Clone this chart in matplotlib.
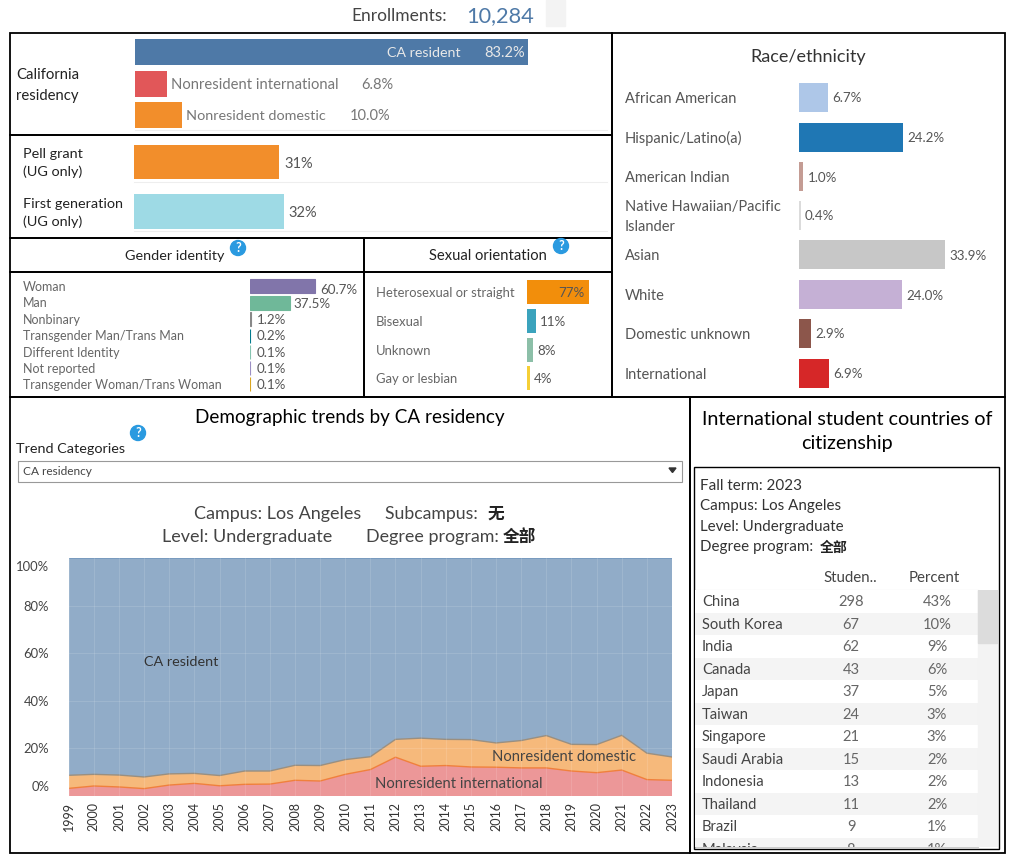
import matplotlib
matplotlib.use("Agg")
import matplotlib.pyplot as plt
from matplotlib.patches import Rectangle, Circle, Polygon
from matplotlib.transforms import ScaledTranslation

FONT = ['Lato', 'Noto Sans CJK SC', 'DejaVu Sans']
plt.rcParams['font.family'] = FONT

W, H = 1011, 864
GREY = '#555555'
DARK = '#222222'

# data
residency = ['CA resident', 'Nonresident international', 'Nonresident domestic']
residency_pct = [83.2, 6.8, 10.0]
residency_col = ['#4e79a7', '#e15759', '#f28e2b']

aid = ['Pell grant\n(UG only)', 'First generation\n(UG only)']
aid_pct = [31, 32]
aid_col = ['#f28e2b', '#9edae5']

gender = ['Woman', 'Man', 'Nonbinary', 'Transgender Man/Trans Man', 'Different Identity',
          'Not reported', 'Transgender Woman/Trans Woman']
gender_pct = [60.7, 37.5, 1.2, 0.2, 0.1, 0.1, 0.1]
gender_col = ['#8175aa', '#6fb899', '#888888', '#027b8e', '#85c4b0', '#9c8fc4', '#d9a521']

orientation = ['Heterosexual or straight', 'Bisexual', 'Unknown', 'Gay or lesbian']
orientation_pct = [77, 11, 8, 4]
orientation_col = ['#f28e0b', '#3ba3bd', '#8cbfa8', '#f5cf36']

race = ['African American', 'Hispanic/Latino(a)', 'American Indian',
        'Native Hawaiian/Pacific\nIslander', 'Asian', 'White', 'Domestic unknown', 'International']
race_pct = [6.7, 24.2, 1.0, 0.4, 33.9, 24.0, 2.9, 6.9]
race_col = ['#aec7e8', '#1f77b4', '#c49c94', '#dbdbdb', '#c7c7c7', '#c5b0d5', '#8c564b', '#d62728']

years = list(range(1999, 2024))
trend_intl = [3.2, 4.2, 3.8, 3.1, 4.6, 5.3, 4.3, 4.9, 5.0, 6.6, 6.3, 9.1, 11.1, 16.3, 12.5, 12.8,
              12.2, 12.1, 11.8, 11.8, 10.5, 9.8, 10.9, 6.9, 6.6]
trend_dom = [5.5, 4.9, 5.0, 4.9, 4.7, 4.2, 4.3, 5.6, 5.5, 6.3, 6.5, 6.2, 5.4, 7.5, 11.8, 11.0,
             11.5, 10.2, 11.5, 13.6, 11.2, 11.8, 14.6, 11.1, 9.8]
trend_ca = [91.3, 90.9, 91.2, 92.0, 90.7, 90.5, 91.4, 89.5, 89.5, 87.1, 87.2, 84.7, 83.5, 76.2,
            75.7, 76.2, 76.3, 77.7, 76.7, 74.6, 78.3, 78.4, 74.5, 82.0, 83.6]

countries = ['China', 'South Korea', 'India', 'Canada', 'Japan', 'Taiwan', 'Singapore',
             'Saudi Arabia', 'Indonesia', 'Thailand', 'Brazil', 'Malaysia']
students = [298, 67, 62, 43, 37, 24, 21, 15, 13, 11, 9, 8]
percents = [43, 10, 9, 6, 5, 3, 3, 2, 2, 2, 1, 1]

fig = plt.figure(figsize=(W / 100, H / 100), dpi=100)


def px_axes(x0, y0, x1, y1):
    ax = fig.add_axes([x0 / W, 1 - y1 / H, (x1 - x0) / W, (y1 - y0) / H])
    ax.axis('off')
    return ax


# page layer for frames and headings, in pixels
page = px_axes(0, 0, W, H)
page.set_xlim(0, W)
page.set_ylim(H, 0)


def frame(x0, y0, x1, y1, lw=1.3):
    page.add_patch(Rectangle((x0, y0), x1 - x0, y1 - y0, fill=False, ec='black', lw=lw, zorder=5))


def put(x, y, s, size=9, color=GREY, ha='left', va='center', **kw):
    page.text(x, y + 0.8, s, fontsize=size, color=color, ha=ha, va=va, zorder=6, **kw)


def help_icon(x, y):
    page.add_patch(Circle((x, y), 7.5, color='#2a9ae0', zorder=6))
    put(x, y - 0.8, '?', size=9, color='white', ha='center', fontweight='bold')


def hbars(rect, scale, values, colors, height, centers=None, edge=False):
    # scale is pixels per percent, y runs in pixels from the top of the rect
    x0, y0, x1, y1 = rect
    ax = px_axes(x0, y0, x1, y1)
    ax.set_xlim(0, (x1 - x0) / scale)
    ax.set_ylim(y1 - y0, 0)
    bars = ax.barh([c - y0 for c in centers], values, height=height, color=colors)
    if edge:
        # very small shares still show as a hairline
        for b, c in zip(bars, colors):
            b.set_edgecolor(c)
            b.set_linewidth(0.8)
    return ax


frame(10, 33, 612, 135)
frame(10, 135, 612, 238)
frame(10, 238, 364, 272)
frame(364, 238, 612, 272)
frame(10, 272, 364, 397)
frame(364, 272, 612, 397)
frame(612, 33, 1005, 397)
frame(10, 397, 690, 853)
frame(690, 397, 1005, 853)
frame(694, 467, 999, 849, lw=1)

# enrollments header
page.add_patch(Rectangle((546, 0), 19, 26, color='#f3f3f3'))
put(351, 15, 'Enrollments:', size=12.5, color='#444444')
put(466, 15, '10,284', size=15.7, color='#4e79a7')

# residency
page.plot([135, 607], [130, 130], color='#eeeeee', lw=0.8)
put(16, 84.5, 'California\nresidency', size=10.7, color=DARK, linespacing=1.6)
ax = hbars((135, 36, 600, 131), 4.72, residency_pct, residency_col, 26, [52, 84, 115])
ax.text(residency_pct[0] - 0.7, 16.8, '%.1f%%' % residency_pct[0], color='#e8e8e8', fontsize=10.5, ha='right', va='center')
ax.text(residency_pct[0] - 14.2, 16.8, residency[0], color='#e8e8e8', fontsize=10.3, ha='right', va='center')
put(171, 84, residency[1], size=10.6, color='#777777')
put(361, 84, '%.1f%%' % residency_pct[1], size=10.5, color='#777777')
put(186, 115, residency[2], size=10.4, color='#777777')
put(350, 115, '%.1f%%' % residency_pct[2], size=10.5, color='#777777')

# pell / first generation
for y in [182, 231]:
    page.plot([134, 607], [y, y], color='#eeeeee', lw=0.8)
ax = hbars((134, 140, 600, 234), 4.69, aid_pct, aid_col, 35, [162, 212])
for lab, val, cy in zip(aid, aid_pct, [162, 212]):
    put(23, cy + 0.5, lab, size=10.4, color=DARK, linespacing=1.5)
    ax.text(val + 1, cy - 140 + 1.5, '%d%%' % val, fontsize=10.5, color=GREY, va='center')

# gender
put(175, 255, 'Gender identity', size=10.4, color=DARK, ha='center')
help_icon(238, 248)
g_y = [286, 302.5, 319, 335.5, 352, 368, 384]
ax = hbars((250, 275, 358, 394), 1.07, gender_pct, gender_col, 14, g_y, edge=True)
for lab, val, cy, i in zip(gender, gender_pct, g_y, range(7)):
    put(23, cy, lab, size=9, color='#666666')
    if i == 0:
        ax.text(val + 5, cy - 275 + 3.5, '%.1f%%' % val, fontsize=9.6, color=GREY, va='center')
    elif i == 1:
        ax.text(val + 3.5, cy - 275 + 1.5, '%.1f%%' % val, fontsize=9.6, color=GREY, va='center')
    else:
        ax.text(6.5, cy - 275 + 0.8, '%.1f%%' % val, fontsize=9.6, color=GREY, va='center')

# orientation
put(488, 255, 'Sexual orientation', size=10.6, color=DARK, ha='center')
help_icon(561, 246)
o_y = [292, 321, 350, 378]
ax = hbars((527, 275, 607, 394), 0.805, orientation_pct, orientation_col, 24, o_y)
for lab, val, cy in zip(orientation, orientation_pct, o_y):
    put(376, cy + 0.5, lab, size=9.4, color='#666666')
    if val > 50:
        ax.text(val - 6, cy - 275 + 0.8, '%d%%' % val, fontsize=9.6, color=GREY, ha='right', va='center')
    else:
        ax.text(val + 5, cy - 275 + 0.8, '%d%%' % val, fontsize=9.6, color=GREY, va='center')

# race
put(808, 56, 'Race/ethnicity', size=13, color='#333333', ha='center')
r_y = [97, 137, 176, 215, 254, 294, 333, 373]
ax = hbars((799, 75, 1000, 392), 4.31, race_pct, race_col, 29, r_y)
for lab, val, cy in zip(race, race_pct, r_y):
    put(625, cy + 1, lab, size=10.5, color='#555555', linespacing=1.55)
    ax.text(val + 1, cy - 75 + 1.5, '%.1f%%' % val, fontsize=9.6, color=GREY, va='center')

# trend panel
put(350, 417, 'Demographic trends by CA residency', size=13.6, color='black', ha='center')
put(16, 448, 'Trend Categories', size=10.4, color=DARK)
help_icon(138, 433)
page.add_patch(Rectangle((17.5, 460.5), 664, 21, fill=False, ec='#999999', lw=0.8))
put(23, 470.5, 'CA residency', size=8.6, color='#444444')
page.add_patch(Polygon([(669, 468), (676, 468), (672.5, 472.5)], color='#333333'))
put(194, 513, 'Campus: Los Angeles', size=13, color='#444444')
put(385, 513, 'Subcampus: ', size=12.7, color='#444444')
put(488, 513, '无', size=12, color=DARK, fontweight='bold')
put(162, 536, 'Level: Undergraduate', size=13, color='#444444')
put(366, 536, 'Degree program: ', size=12.9, color='#444444')
put(503, 536, '全部', size=12, color=DARK, fontweight='bold')

ax = fig.add_axes([68.7 / W, 1 - 796 / H, (672 - 68.7) / W, (796 - 558) / H])
ax.stackplot(years, trend_intl, trend_dom, trend_ca, colors=['#e15759', '#f28e2b', '#4e79a7'], alpha=0.62, lw=0)
mid = [a + b for a, b in zip(trend_intl, trend_dom)]
ax.plot(years, trend_intl, color='#f0803c', lw=1)
ax.plot(years, mid, color='#9a8f80', lw=1)
ax.plot(years, [100] * len(years), color='#5f88b4', lw=1.2)
ax.set_xlim(1999, 2023)
ax.set_ylim(0, 100)
ax.set_xticks(years)
ax.set_xticklabels([str(y) for y in years], rotation=90, fontsize=9, color='#333333')
ax.set_yticks([0, 20, 40, 60, 80, 100])
ax.set_yticklabels(['0%', '20%', '40%', '60%', '80%', '100%'], fontsize=9.4, color='#444444')
ax.tick_params(length=0, pad=4)
ax.tick_params(axis='y', pad=14)
# end labels sit inside the axis range; tick_params resets transforms so this comes after
ylabs = ax.get_yticklabels()
ylabs[0].set_va('bottom')
ylabs[-1].set_va('top')
ylabs[0].set_transform(ylabs[0].get_transform() + ScaledTranslation(0, 2 / 72, fig.dpi_scale_trans))
ylabs[-1].set_transform(ylabs[-1].get_transform() + ScaledTranslation(0, -2 / 72, fig.dpi_scale_trans))
ax.grid(color='white', alpha=0.12, lw=0.8)
ax.set_axisbelow(False)
for s in ax.spines.values():
    s.set_visible(False)
ax.text(2002, 56.4, 'CA resident', fontsize=10.4, color='#333333', va='center')
ax.text(2014.5, 5.2, 'Nonresident international', fontsize=10.6, color='#444444', ha='center', va='center')
ax.text(2018.7, 16.5, 'Nonresident domestic', fontsize=10.6, color='#444444', ha='center', va='center')

# countries panel
put(847, 430.5, 'International student countries of\ncitizenship', size=14.2, color='black', ha='center', linespacing=1.5)
for i, s in enumerate(['Fall term: 2023', 'Campus: Los Angeles', 'Level: Undergraduate', 'Degree program: ']):
    put(700, 485 + i * 20.5, s, size=10.9, color='#333333')
put(820, 546.5, '全部', size=10, color=DARK, fontweight='bold')
put(850, 577.5, 'Studen..', size=10.8, color='#444444', ha='center')
put(934, 577.5, 'Percent', size=10.8, color='#444444', ha='center')

tab = px_axes(695, 590, 998, 847)
tab.set_xlim(695, 998)
tab.set_ylim(257 / 22.5, 0)
rows = list(range(len(countries)))
tab.barh([r + 0.5 for r in rows], [283] * len(rows), left=695, height=1,
         color=['white' if r % 2 == 0 else '#f4f4f4' for r in rows])
tab.add_patch(Rectangle((978, 0), 19, 257 / 22.5, color='#f3f3f3'))
tab.add_patch(Rectangle((978, 0), 19, 53 / 22.5, color='#dcdcdc'))
for r in rows:
    tab.text(702, r + 0.54, countries[r], fontsize=10.6, color='#444444', va='center', clip_on=True)
    tab.text(851, r + 0.54, str(students[r]), fontsize=10.6, color='#666666', ha='center', va='center', clip_on=True)
    tab.text(937, r + 0.54, '%d%%' % percents[r], fontsize=10.6, color='#666666', ha='center', va='center', clip_on=True)
page.plot([695, 978], [589.5, 589.5], color='#cccccc', lw=0.8)
page.plot([695, 978], [847, 847], color='#cccccc', lw=0.8)

fig.savefig('out.png', dpi=100)
